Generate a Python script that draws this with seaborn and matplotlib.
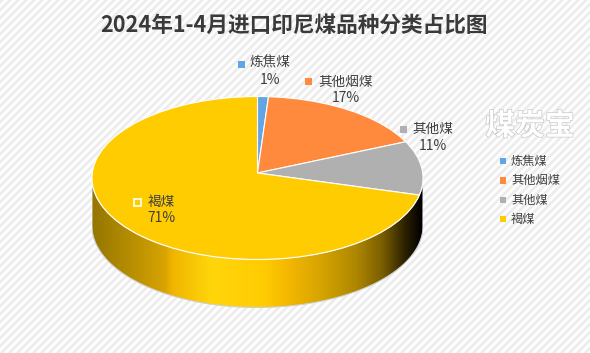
import matplotlib
matplotlib.use("Agg")
import matplotlib.pyplot as plt
from matplotlib.colors import LinearSegmentedColormap
from matplotlib.patches import Ellipse, PathPatch, Rectangle
from matplotlib.path import Path
import matplotlib.patheffects as pe
import numpy as np
import seaborn as sns

sns.set_theme(style="white")
plt.rcParams['font.family'] = ['Noto Sans CJK SC', 'DejaVu Sans']

title = "2024年1-4月进口印尼煤品种分类占比图"
categories = ["炼焦煤", "其他烟煤", "其他煤", "褐煤"]
shares = [1.13, 17.43, 10.74, 70.70]
shown_pct = ["1%", "17%", "11%", "71%"]
colors = ["#62A5E6", "#FF8A3D", "#B0B0B0", "#FFCC02"]
watermark = "煤炭宝"

W, H = 590, 353
text_color = "#404040"

# pie geometry in pixels
cx, cy = 257.5, 178
rx, ry = 165.5, 81.5
depth = 48
tip_shift = 5 / ry  # slices meet a bit above the ellipse centre (perspective)

fig = plt.figure(figsize=(W / 100, H / 100), dpi=100)

# striped background
bg = fig.add_axes([0, 0, 1, 1])
yy, xx = np.mgrid[0:H * 3, 0:W * 3]
stripes = ((xx + yy) % 24 < 12).astype(float)
bg.imshow(stripes, extent=(0, W, H, 0), cmap=LinearSegmentedColormap.from_list("bg", ["#FFFFFF", "#EDEDED"]),
          interpolation="antialiased", aspect="auto", zorder=0)
bg.set_xlim(0, W)
bg.set_ylim(H, 0)
bg.axis("off")

# pie axes, data units are ellipse radii
d = depth / ry
pie_ax = fig.add_axes([(cx - rx) / W, 1 - (cy + ry + depth) / H, 2 * rx / W, (2 * ry + depth) / H])
pie_ax.patch.set_alpha(0)
wall_cmap = LinearSegmentedColormap.from_list("wall", [
    (0.00, "#967600"), (0.12, "#B88F00"), (0.22, "#D8A400"), (0.24, "#F0B400"),
    (0.36, "#FFD60A"), (0.52, "#FFCC02"), (0.59, "#F5B800"), (0.70, "#D4A300"),
    (0.80, "#AE8700"), (0.88, "#7A5E00"), (0.95, "#2A2000"), (1.00, "#000000")])
grad = np.linspace(0, 1, 400).reshape(1, -1)
wall = pie_ax.imshow(grad, extent=(-1, 1, -1 - d, 1), cmap=wall_cmap, aspect="auto", zorder=0)
t = np.linspace(np.pi, 2 * np.pi, 200)
ex, ey = np.cos(t), np.sin(t)
verts = np.vstack([np.column_stack([ex, ey]), np.column_stack([ex[::-1], ey[::-1] - d]), [[ex[0], ey[0]]]])
outline = PathPatch(Path(verts), fc="none", ec="#D0D0D0", lw=0.8, zorder=0.5)
pie_ax.add_patch(outline)
wall.set_clip_path(outline)

wedges, _ = pie_ax.pie(shares, colors=colors, startangle=90, counterclock=False, radius=1.4,
                       center=(0, tip_shift), wedgeprops=dict(edgecolor="white", linewidth=0.8))
rim = Ellipse((0, 0), 2, 2, fc="none", ec="white", lw=0.8, zorder=3)
pie_ax.add_patch(rim)
for w in wedges:
    # pie turns clipping off, the big wedges must be cut to the ellipse
    w.set_clip_on(True)
    w.set_clip_path(rim)
pie_ax.set_aspect("auto")
pie_ax.set_xlim(-1, 1)
pie_ax.set_ylim(-1 - d, 1)
pie_ax.axis("off")
rim.set_clip_on(False)

# layer above the pie for text
top = fig.add_axes([0, 0, 1, 1])
top.patch.set_alpha(0)
top.set_xlim(0, W)
top.set_ylim(H, 0)
top.axis("off")

top.text(294.5, 25, title, fontsize=15.6, fontweight="bold", color="#3A3A3A", ha="center", va="center")

label_pos = [(270, 63), (345.5, 82), (433, 129), (161, 202)]
key_pos = [(241, 64), (308, 81), (403, 129), (137, 202)]
for i, name in enumerate(categories):
    lx, ly = label_pos[i]
    top.text(lx, ly, name, fontsize=9.8, color=text_color, ha="center", va="center")
    top.text(lx, ly + 16.5, shown_pct[i], fontsize=10, color=text_color, ha="center", va="center")
    kx, ky = key_pos[i]
    edge = "white" if i == 3 else "none"
    top.add_patch(Rectangle((kx - 3.5, ky - 3.5), 7, 7, fc=colors[i], ec=edge, lw=1.2))

# legend
leg_y = [161, 180.5, 200, 219]
for name, col, y in zip(categories, colors, leg_y):
    top.add_patch(Rectangle((499.5, y - 3.2), 6.5, 6.5, fc=col, ec="none"))
    top.text(511, y, name, fontsize=8.8, color=text_color, ha="left", va="center")

# watermark
top.text(530, 126, watermark, fontsize=21.5, fontweight="bold", color="white", ha="center", va="center",
         path_effects=[pe.withStroke(linewidth=0.9, foreground="#C4C4C4")])

fig.savefig("out.png", dpi=100)
